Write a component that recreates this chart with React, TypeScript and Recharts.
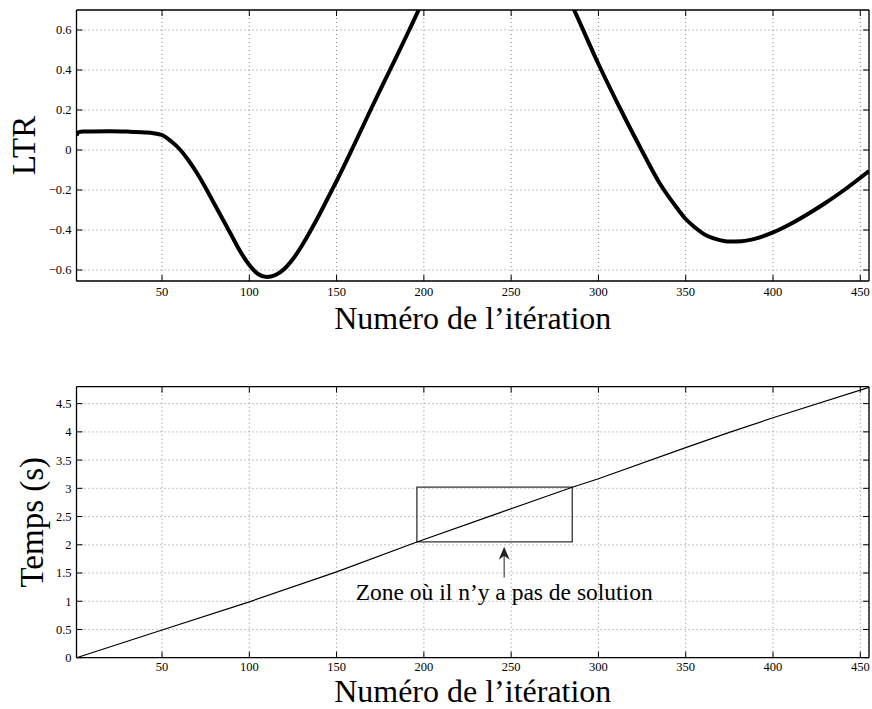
import React from 'react';
import {
  LineChart,
  Line,
  XAxis,
  YAxis,
  CartesianGrid,
  ReferenceArea,
  ReferenceLine,
  ReferenceDot,
  Label,
} from 'recharts';

// iteration axis shared by both panels
const xTicks = [50, 100, 150, 200, 250, 300, 350, 400, 450];

// LTR per iteration (values above 0.7 are outside the visible window)
const ltrIter = [
  1, 2, 5, 10, 20, 30, 40, 45, 50, 55, 60, 65, 70, 75, 80, 85, 90, 95, 100, 105, 110, 115, 120, 125,
  130, 135, 140, 145, 150, 160, 170, 180, 190, 197, 210, 225, 240, 255, 270, 285, 300, 312, 325, 335,
  345, 350, 355, 360, 368, 375, 382, 390, 400, 410, 420, 430, 440, 455,
];
const ltrValue = [
  0.072, 0.088, 0.092, 0.093, 0.094, 0.092, 0.088, 0.084, 0.075, 0.045, 0.005, -0.05, -0.115, -0.19,
  -0.27, -0.35, -0.43, -0.51, -0.575, -0.62, -0.635, -0.625, -0.595, -0.545, -0.48, -0.405, -0.325,
  -0.24, -0.155, 0.025, 0.21, 0.39, 0.57, 0.7, 0.93, 1.12, 1.2, 1.17, 0.98, 0.72, 0.43, 0.215, -0.005,
  -0.165, -0.29, -0.345, -0.385, -0.418, -0.447, -0.458, -0.456, -0.443, -0.412, -0.37, -0.32, -0.265,
  -0.205, -0.105,
];
const ltrTicks = [-0.6, -0.4, -0.2, 0, 0.2, 0.4, 0.6];

// elapsed time (s) per iteration
const timeIter = [1, 50, 100, 150, 196, 240, 285, 300, 350, 375, 400, 455];
const timeValue = [0, 0.49, 0.99, 1.52, 2.05, 2.53, 3.02, 3.17, 3.72, 3.99, 4.25, 4.79];
const timeTicks = [0, 0.5, 1, 1.5, 2, 2.5, 3, 3.5, 4, 4.5];

// zone without solution
const zoneIter = [196, 285];
const zoneTime = [2.05, 3.02];
const arrowIter = 246;
const arrowTime = [1.42, 1.965];
const zoneTextTime = 1.02;
const zoneText = 'Zone où il n’y a pas de solution';

const xTitle = 'Numéro de l’itération';

const ltrData = ltrIter.map((iter, i) => ({ iter, ltr: ltrValue[i] }));
const timeData = timeIter.map((iter, i) => ({ iter, t: timeValue[i] }));

const FONT = '"Liberation Serif", "Times New Roman", serif';
const tickStyle = { fontFamily: FONT, fontSize: 12.5, fill: '#000' };
const fmt = (v: number) => (v < 0 ? '−' + Math.abs(v) : String(v));
const blank = () => '';

const xTitleAt = (offset: number) => ({ viewBox }: any) => (
  <text
    x={viewBox.x + viewBox.width / 2}
    y={viewBox.y + offset}
    textAnchor="middle"
    fontFamily={FONT}
    fontSize={32}
    fill="#000"
  >
    {xTitle}
  </text>
);

const yTitle = (text: string, baseX: number) => ({ viewBox }: any) => {
  const cy = viewBox.y + viewBox.height / 2;
  return (
    <text
      x={baseX}
      y={cy}
      transform={`rotate(-90, ${baseX}, ${cy})`}
      textAnchor="middle"
      fontFamily={FONT}
      fontSize={33}
      fill="#000"
    >
      {text}
    </text>
  );
};

const ArrowHead = ({ cx, cy }: any) => (
  <path
    d={`M${cx},${cy} L${cx - 5.5},${cy + 13} L${cx},${cy + 9} L${cx + 5.5},${cy + 13} Z`}
    fill="#222"
  />
);

const ZoneLabel = ({ cx, cy }: any) => (
  <text x={cx} y={cy} textAnchor="middle" fontFamily={FONT} fontSize={23.5} fill="#000">
    {zoneText}
  </text>
);

const axisLine = { stroke: '#000', strokeWidth: 1.3 };
const tickLine = { stroke: '#000', strokeWidth: 1 };

export default function App() {
  return (
    <div style={{ position: 'absolute', left: 0, top: 0, width: 872, height: 709, background: '#fff' }}>
      <div style={{ position: 'absolute', left: 0, top: 0 }}>
        <LineChart width={872} height={340} data={ltrData} margin={{ top: 9, right: 2, bottom: 58, left: 0 }}>
          <CartesianGrid stroke="#888" strokeDasharray="1 3" />
          <XAxis
            dataKey="iter"
            type="number"
            domain={[1, 455]}
            ticks={xTicks}
            allowDataOverflow
            height={1}
            tickSize={-6}
            tickMargin={12}
            tick={tickStyle}
            axisLine={axisLine}
            tickLine={tickLine}
          >
            <Label content={xTitleAt(47.5)} />
          </XAxis>
          <XAxis
            xAxisId="top"
            orientation="top"
            dataKey="iter"
            type="number"
            domain={[1, 455]}
            ticks={xTicks}
            allowDataOverflow
            height={1}
            tickSize={-6}
            tickFormatter={blank}
            axisLine={axisLine}
            tickLine={tickLine}
          />
          <YAxis
            type="number"
            domain={[-0.655, 0.7]}
            ticks={ltrTicks}
            allowDataOverflow
            width={76.5}
            tickSize={-6}
            tickMargin={11}
            tick={tickStyle}
            tickFormatter={fmt}
            axisLine={axisLine}
            tickLine={tickLine}
          >
            <Label content={yTitle('LTR', 35)} />
          </YAxis>
          <YAxis
            yAxisId="right"
            orientation="right"
            type="number"
            domain={[-0.655, 0.7]}
            ticks={ltrTicks}
            allowDataOverflow
            width={1}
            tickSize={-6}
            tickFormatter={blank}
            axisLine={axisLine}
            tickLine={tickLine}
          />
          <Line
            type="monotone"
            dataKey="ltr"
            stroke="#000"
            strokeWidth={4}
            dot={false}
            isAnimationActive={false}
          />
        </LineChart>
      </div>
      <div style={{ position: 'absolute', left: 0, top: 340 }}>
        <LineChart width={872} height={369} data={timeData} margin={{ top: 45.7, right: 2, bottom: 50.3, left: 0 }}>
          <CartesianGrid stroke="#888" strokeDasharray="1 3" />
          <XAxis
            dataKey="iter"
            type="number"
            domain={[1, 455]}
            ticks={xTicks}
            allowDataOverflow
            height={1}
            tickSize={-6}
            tickMargin={10}
            tick={tickStyle}
            axisLine={axisLine}
            tickLine={tickLine}
          >
            <Label content={xTitleAt(44.2)} />
          </XAxis>
          <XAxis
            xAxisId="top"
            orientation="top"
            dataKey="iter"
            type="number"
            domain={[1, 455]}
            ticks={xTicks}
            allowDataOverflow
            height={1}
            tickSize={-6}
            tickFormatter={blank}
            axisLine={axisLine}
            tickLine={tickLine}
          />
          <YAxis
            type="number"
            domain={[0, 4.8]}
            ticks={timeTicks}
            allowDataOverflow
            width={76.5}
            tickSize={-6}
            tickMargin={11}
            tick={tickStyle}
            axisLine={axisLine}
            tickLine={tickLine}
          >
            <Label content={yTitle('Temps (s)', 43.3)} />
          </YAxis>
          <YAxis
            yAxisId="right"
            orientation="right"
            type="number"
            domain={[0, 4.8]}
            ticks={timeTicks}
            allowDataOverflow
            width={1}
            tickSize={-6}
            tickFormatter={blank}
            axisLine={axisLine}
            tickLine={tickLine}
          />
          <ReferenceArea
            x1={zoneIter[0]}
            x2={zoneIter[1]}
            y1={zoneTime[0]}
            y2={zoneTime[1]}
            fill="none"
            fillOpacity={0}
            stroke="#333"
            strokeWidth={1.3}
          />
          <ReferenceLine
            segment={[
              { x: arrowIter, y: arrowTime[0] },
              { x: arrowIter, y: arrowTime[1] - 0.1 },
            ]}
            stroke="#444"
            strokeWidth={1.2}
          />
          <ReferenceDot x={arrowIter} y={arrowTime[1]} shape={ArrowHead} />
          <ReferenceDot x={arrowIter} y={zoneTextTime} shape={ZoneLabel} />
          <Line
            type="linear"
            dataKey="t"
            stroke="#000"
            strokeWidth={1.2}
            dot={false}
            isAnimationActive={false}
          />
        </LineChart>
      </div>
    </div>
  );
}
